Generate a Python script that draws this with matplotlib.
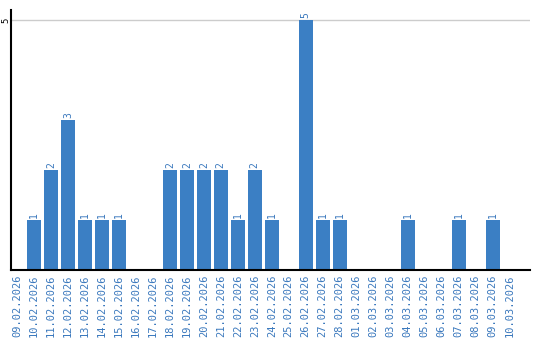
import matplotlib
matplotlib.use('Agg')
import matplotlib.pyplot as plt

dates = ['09.02.2026', '10.02.2026', '11.02.2026', '12.02.2026', '13.02.2026',
         '14.02.2026', '15.02.2026', '16.02.2026', '17.02.2026', '18.02.2026',
         '19.02.2026', '20.02.2026', '21.02.2026', '22.02.2026', '23.02.2026',
         '24.02.2026', '25.02.2026', '26.02.2026', '27.02.2026', '28.02.2026',
         '01.03.2026', '02.03.2026', '03.03.2026', '04.03.2026', '05.03.2026',
         '06.03.2026', '07.03.2026', '08.03.2026', '09.03.2026', '10.03.2026']
counts = [0, 1, 2, 3, 1, 1, 1, 0, 0, 2,
          2, 2, 2, 1, 2, 1, 0, 5, 1, 1,
          0, 0, 0, 1, 0, 0, 1, 0, 1, 0]

blue = '#3b7fc4'
txt = '#3a78bd'

fig = plt.figure(figsize=(5.4, 3.4), dpi=100)
ax = fig.add_axes([0.0204, 0.206, 0.961, 0.765])

x = list(range(len(dates)))
ax.bar(x, counts, width=0.82, color=blue, zorder=3)
for i, v in zip(x, counts):
    if v > 0:
        ax.text(i, v + 0.04, str(v), rotation=90, ha='center', va='bottom',
                color=txt, fontsize=7, family='DejaVu Sans Mono')

ax.set_xlim(-0.35, 30.2)
ax.set_ylim(0, 5.2)
ax.set_xticks(x)
ax.set_xticklabels(dates, rotation=90, color=txt, fontsize=7.5, family='DejaVu Sans Mono')
ax.set_yticks([5])
ax.set_yticklabels(['5'], rotation=90, va='center', fontsize=6.5, family='DejaVu Sans Mono')
ax.tick_params(axis='both', length=0, pad=3)
ax.tick_params(axis='y', pad=0.5)
ax.yaxis.grid(True, color='#cccccc', linewidth=1, zorder=0)
for s in ['top', 'right']:
    ax.spines[s].set_visible(False)
for s in ['left', 'bottom']:
    ax.spines[s].set_linewidth(1.5)
    ax.spines[s].set_zorder(4)

plt.savefig('out.png', dpi=100)
